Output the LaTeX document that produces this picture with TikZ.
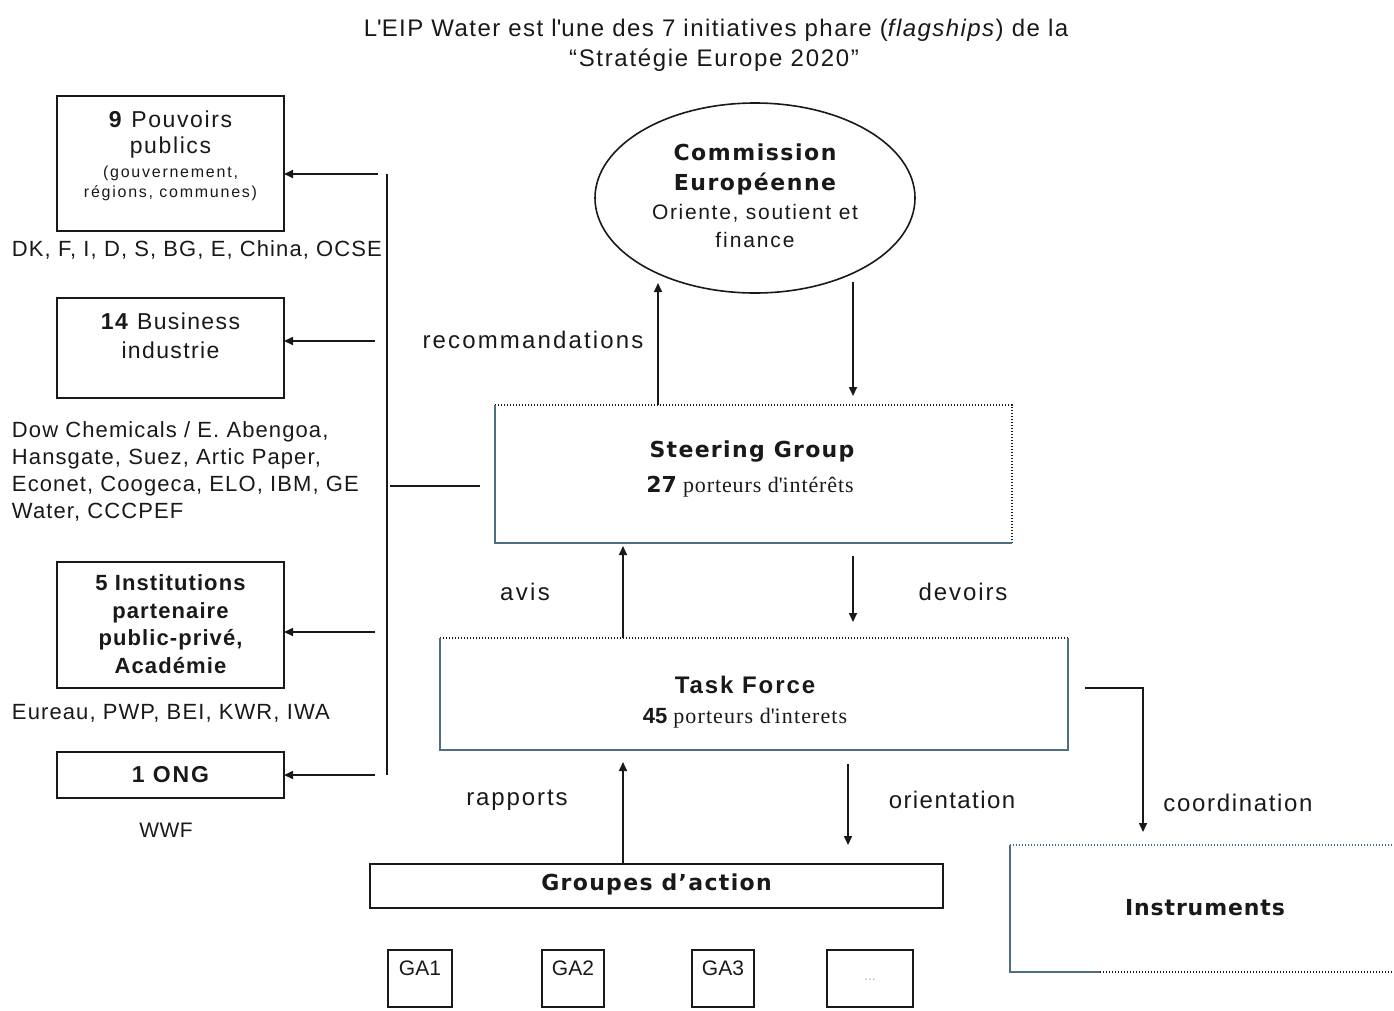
\documentclass[tikz,border=0pt]{standalone}
\usepackage{fontspec}
\setmainfont{Liberation Sans}
\newfontfamily\serifface{Liberation Serif}
\newfontfamily\wideface{DejaVu Sans}
\usetikzlibrary{shapes.geometric,arrows.meta}
\newcommand\fsz[1]{\fontsize{#1}{#1}\selectfont}
\newcommand\fszl[2]{\fontsize{#1}{#2}\selectfont}
\newcommand\lsp[1]{\addfontfeature{LetterSpace=#1}}
\definecolor{ink}{RGB}{25,25,25}
\definecolor{edge}{RGB}{80,110,130}

\begin{document}
\begin{tikzpicture}[x=1pt,y=-1pt,
  every node/.style={inner sep=0pt, outer sep=0pt, text=ink},
  box/.style={draw=ink, line width=1.7pt, rectangle},
  frame/.style={rectangle, draw=none},
  arr/.style={draw=ink, line width=1.6pt, -{Triangle[length=9pt,width=8pt]}},
  ln/.style={draw=ink, line width=1.6pt},
  dotline/.style={draw=ink, line width=1.6pt, dash pattern=on 1.4pt off 1.6pt},
  thinline/.style={draw=edge, line width=1.3pt},
  small/.style={font=\fsz{22}\lsp{5}, anchor=west, align=left},
]
\useasboundingbox (0,0) rectangle (1394,1010);

% heading
\node[font=\fsz{24}\lsp{6}] (title1) at (716,30) {L\textquotesingle EIP Water est l\textquotesingle une des 7 initiatives phare (\textit{flagships}) de la};
\node[font=\fsz{24}\lsp{7}] (title2) at (714,60) {“Stratégie Europe 2020”};

% ---------- stakeholder boxes on the left ----------
\node[box, minimum width=227pt, minimum height=135pt] (pp) at (170.5,163.5) {};
\node[font=\fsz{23}\lsp{7}] (pp1) at (170.5,119) {\textbf{9} Pouvoirs};
\node[font=\fsz{23}\lsp{7}] (pp2) at (170.5,148) {publics};
\node[font=\fsz{16}\lsp{11}] (pp3) at (170.5,173) {(gouvernement,};
\node[font=\fsz{16}\lsp{11}] (pp4) at (170.5,193) {régions, communes)};
\node[small] (ppl) at (12,250) {DK, F, I, D, S, BG, E, China, OCSE};

\node[box, minimum width=227pt, minimum height=100pt] (bi) at (170.5,348) {};
\node[font=\fsz{23}\lsp{6}] (bi1) at (170.5,321) {\textbf{14} Business};
\node[font=\fsz{23}\lsp{6}] (bi2) at (170.5,350) {industrie};
\node[anchor=north west, font=\fszl{22}{26.7}\lsp{5}, align=left] (bil) at (12,422)
  {Dow Chemicals / E. Abengoa,\\ Hansgate, Suez, Artic Paper,\\ Econet, Coogeca, ELO, IBM, GE\\ Water, CCCPEF};

\node[box, minimum width=227pt, minimum height=126pt] (ia) at (170.5,625) {};
\node[font=\bfseries\fszl{22}{27.5}\lsp{5}, align=center] (ia1) at (170.5,624)
  {5 Institutions\\ partenaire\\ public-privé,\\ Académie};
\node[small] (ial) at (12,713) {Eureau, PWP, BEI, KWR, IWA};

\node[box, minimum width=227pt, minimum height=46pt] (ong) at (170.5,775) {};
\node[font=\bfseries\fsz{23}\lsp{8}] (ong1) at (170.5,775) {1 ONG};
\node[font=\fsz{21}\lsp{2}] (ongl) at (166,830) {WWF};

% trunk that feeds the four boxes
\coordinate (trT) at (387,174);
\coordinate (trB) at (387,775);
\draw[ln] (trT) -- (trB);
\coordinate (a1) at (378,174);
\coordinate (a2) at (375,341);
\coordinate (a3) at (375,632);
\coordinate (a4) at (375,775);
\draw[arr] (a1) -- (a1 -| pp.east);
\draw[arr] (a2) -- (a2 -| bi.east);
\draw[arr] (a3) -- (a3 -| ia.east);
\draw[arr] (a4) -- (a4 -| ong.east);

% ---------- European Commission ----------
\node[draw=ink, line width=1.6pt, ellipse, minimum width=320pt, minimum height=190pt] (ce) at (755,198) {};
\node[font=\wideface\bfseries\fsz{22}\lsp{7}] (ce1) at (755,152) {Commission};
\node[font=\wideface\bfseries\fsz{22}\lsp{7}] (ce2) at (755,184) {Européenne};
\node[font=\fsz{21}\lsp{8}] (ce3) at (755,213) {Oriente, soutient et};
\node[font=\fsz{21}\lsp{9}] (ce4) at (755,240) {finance};

% ---------- Steering Group ----------
\node[frame, minimum width=517pt, minimum height=138pt] (sg) at (753.5,474) {};
\draw[dotline] (sg.north west) -- (sg.north east) -- (sg.south east);
\draw[thinline] (sg.north west) -- (sg.south west) -- (sg.south east);
\node[font=\wideface\bfseries\fsz{22}\lsp{6}] (sg1) at (752,452) {Steering Group};
\node[font=\fsz{22}] (sg2) at (750,487) {{\wideface\bfseries 27} {\serifface\lsp{4} porteurs d\textquotesingle intérêts}};

\coordinate (sgUp) at (658,405);
\coordinate (sgDn) at (853,282);
\draw[arr] (sgUp) -- (658,283);
\draw[arr] (sgDn) -- (sgDn |- 0,396);
\node[font=\fsz{24}\lsp{9}] (rec) at (533,340) {recommandations};

\draw[ln] (390,486) -- (480,486);
\coordinate (sgL) at (480,486);

% ---------- Task Force ----------
\node[frame, minimum width=628pt, minimum height=112pt] (tf) at (754,694) {};
\draw[dotline] (tf.north west) -- (tf.north east);
\draw[thinline] (tf.north east) -- (tf.south east) -- (tf.south west) -- (tf.north west);
\node[font=\bfseries\fsz{24}\lsp{8}] (tf1) at (745,685) {Task Force};
\node[font=\fsz{22}] (tf2) at (745,718) {\textbf{45} {\serifface\lsp{5} porteurs d\textquotesingle interets}};

\draw[arr] (tf.north -| 623,0) -- (623,546);
\draw[arr] (853,556) -- (853,622);
\node[font=\fsz{24}\lsp{10}] (avis) at (525,592) {avis};
\node[font=\fsz{24}\lsp{8}] (dev) at (963,592) {devoirs};

% ---------- action groups ----------
\node[box, minimum width=573pt, minimum height=44pt] (ga) at (656.5,886) {};
\node[font=\wideface\bfseries\fsz{22}\lsp{6}] (ga0) at (656.5,884) {Groupes d’action};

\draw[arr] (ga.north -| 623,0) -- (623,762);
\draw[arr] (848,764) -- (848,845);
\node[font=\fsz{24}\lsp{8}] (rap) at (517,800) {rapports};
\node[font=\fsz{24}\lsp{6}] (ori) at (952,800) {orientation};

\node[box, line width=1.5pt, minimum width=64pt, minimum height=57pt] (g1) at (420,978.5) {};
\node[box, line width=1.5pt, minimum width=62pt, minimum height=57pt] (g2) at (573,978.5) {};
\node[box, line width=1.5pt, minimum width=62pt, minimum height=57pt] (g3) at (723,978.5) {};
\node[box, line width=1.5pt, minimum width=86pt, minimum height=57pt] (g4) at (870,978.5) {};
\node[font=\fsz{21}] (g1t) at (420,968) {GA1};
\node[font=\fsz{21}] (g2t) at (573,968) {GA2};
\node[font=\fsz{21}] (g3t) at (723,968) {GA3};
\node[font=\fsz{14}, text=black!30] (g4t) at (870,980) {...};

% ---------- Instruments ----------
\node[frame, minimum width=380pt, minimum height=127pt] (ins) at (1200,908.5) {};
\draw[dotline, draw=edge] (ins.north west) -- (1392,845);
\draw[thinline] (ins.north west) -- (ins.south west) -- (1100,972);
\draw[dotline] (1100,972) -- (1392,972);
\node[font=\wideface\bfseries\fsz{22}\lsp{4}] (ins1) at (1205,908) {Instruments};

\coordinate (tfc) at (1085,688);
\coordinate (coordTip) at (1143,832);
\draw[arr] (tfc) -| (coordTip);
\node[font=\fsz{24}\lsp{7}] (coo) at (1238,803) {coordination};

\end{tikzpicture}
\end{document}
